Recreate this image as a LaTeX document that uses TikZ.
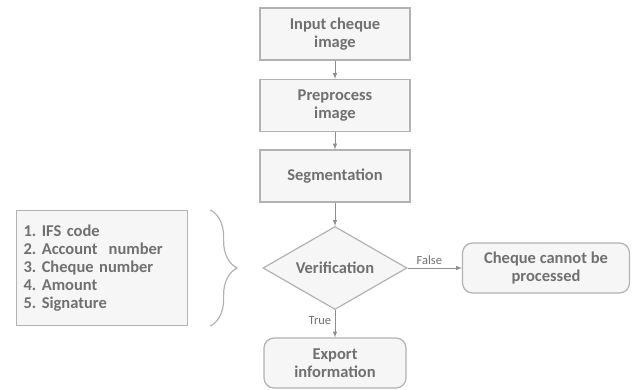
\documentclass[tikz,border=0pt]{standalone}
\usepackage{fontspec}
\setmainfont{Carlito}
\usetikzlibrary{positioning,shapes.geometric,decorations.pathreplacing}
\definecolor{boxline}{RGB}{178,178,178}
\definecolor{boxfill}{RGB}{246,246,246}
\definecolor{boxtext}{RGB}{112,112,112}
\tikzset{
  every node/.style={
    text=boxtext,
    font=\bfseries\fontsize{16.5}{18}\selectfont
  },
  stepbox/.style={
    draw=boxline, fill=boxfill, line width=1.2pt,
    minimum width=150pt, minimum height=52pt,
    align=center, inner sep=2pt
  },
  endbox/.style={stepbox, rounded corners=10pt, minimum height=50pt},
  flow/.style={draw=boxline!80!black, line width=1pt, -latex},
  flowlabel/.style={font=\fontsize{12.5}{14}\selectfont}
}

\begin{document}
\frenchspacing
\begin{tikzpicture}[x=1pt,y=-1pt]
      \useasboundingbox (0,0) rectangle (642,390);
      \node [stepbox] (Input) at (335,34) {Input cheque\\image};
      \node [stepbox, on grid, below=71.5pt of Input] (Preprocess) {Preprocess\\image};
      \node [stepbox, on grid, below=70.5pt of Preprocess] (Segment) {Segmentation};
      \node [stepbox, diamond, on grid, below=92pt of Segment, aspect=1.73,
             minimum width=144pt, minimum height=83pt, inner sep=0pt] (Verify) {Verification};
      \node [endbox, on grid, below=95pt of Verify, minimum width=142pt] (Export) {Export\\information};
      \node [endbox, on grid, right=211pt of Verify, minimum width=167pt] (Reject) {Cheque cannot be\\processed};
      \node [stepbox, on grid, left=233pt of Verify, minimum width=171pt, minimum height=115pt,
             text width=157pt, align=left, inner sep=7pt] (Fields)
            {1. IFS code\\2. Account~ number\\3. Cheque number\\4. Amount\\5. Signature};
      \coordinate [right=22pt of Fields.north east] (BraceTop);
      \coordinate [right=22pt of Fields.south east] (BraceBottom);
      \draw [boxline, line width=1.2pt, decorate, decoration={brace, amplitude=27pt}]
            (BraceTop) -- (BraceBottom);
      \draw [flow] (Input) -- (Preprocess);
      \draw [flow] (Preprocess) -- (Segment);
      \draw [flow] (Segment) -- (Verify);
      \draw [flow] (Verify) -- node [above, flowlabel, pos=0.4] {False} (Reject);
      \draw [flow] (Verify) -- node [left, flowlabel, pos=0.4] {True} (Export);
    \end{tikzpicture}
\end{document}
